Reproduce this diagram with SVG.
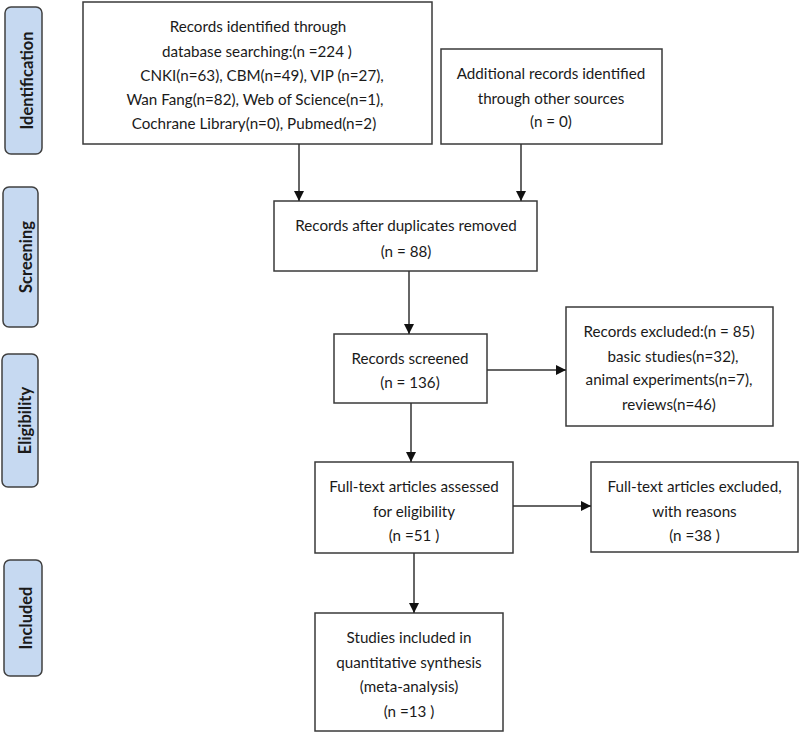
<svg xmlns="http://www.w3.org/2000/svg" width="800" height="733" viewBox="0 0 800 733">
<style>
.box{fill:#fff;stroke:#3a3a3a;stroke-width:1.5}
.phase{fill:#c6d9f1;stroke:#404040;stroke-width:1.5}
.t{font-family:Lato,"Liberation Sans",sans-serif;font-size:15.2px;fill:#1a1a1a;text-anchor:middle}
.pt{font-family:Lato,"Liberation Sans",sans-serif;font-size:16.5px;font-weight:bold;fill:#1a1a1a;text-anchor:middle}
.c{stroke:#333;stroke-width:1.5;fill:none;marker-end:url(#ah)}
</style>
<defs>
<marker id="ah" viewBox="0 0 10 10" refX="10" refY="5" markerWidth="10" markerHeight="10" markerUnits="userSpaceOnUse" orient="auto">
<path d="M0,0 L10,5 L0,10 z" fill="#111"/>
</marker>
</defs>
<rect width="800" height="733" fill="#fff"/>
<g id="phase-identification">
<rect class="phase" x="5" y="7" width="37" height="147" rx="6"/>
<text class="pt" transform="translate(32.5,80.5) rotate(-90)">Identification</text>
</g>
<g id="phase-screening">
<rect class="phase" x="3" y="187" width="35" height="140" rx="6"/>
<text class="pt" transform="translate(31.5,257) rotate(-90)">Screening</text>
</g>
<g id="phase-eligibility">
<rect class="phase" x="2" y="354" width="36" height="133" rx="6"/>
<text class="pt" transform="translate(30.5,420.5) rotate(-90)">Eligibility</text>
</g>
<g id="phase-included">
<rect class="phase" x="4" y="560" width="38" height="116" rx="6"/>
<text class="pt" transform="translate(31.5,618) rotate(-90)">Included</text>
</g>
<g id="n-identified">
<rect class="box" x="83" y="2" width="349" height="142"/>
<text class="t" x="258" y="32">Records identified through</text>
<text class="t" x="257" y="57">database searching:(n =224 )</text>
<text class="t" x="262" y="81">CNKI(n=63), CBM(n=49), VIP (n=27),</text>
<text class="t" x="255" y="105">Wan Fang(n=82), Web of Science(n=1),</text>
<text class="t" x="254" y="129">Cochrane Library(n=0), Pubmed(n=2)</text>
</g>
<g id="n-additional">
<rect class="box" x="441" y="49" width="221" height="95"/>
<text class="t" x="551" y="79">Additional records identified</text>
<text class="t" x="551" y="104">through other sources</text>
<text class="t" x="551" y="127">(n = 0)</text>
</g>
<g id="n-duplicates">
<rect class="box" x="274" y="201" width="263" height="70"/>
<text class="t" x="406" y="231">Records after duplicates removed</text>
<text class="t" x="406" y="257">(n = 88)</text>
</g>
<g id="n-screened">
<rect class="box" x="334" y="334" width="153" height="69"/>
<text class="t" x="410" y="364">Records screened</text>
<text class="t" x="410" y="388">(n = 136)</text>
</g>
<g id="n-excluded">
<rect class="box" x="566" y="307" width="207" height="119"/>
<text class="t" x="669" y="337">Records excluded:(n = 85)</text>
<text class="t" x="673" y="362">basic studies(n=32),</text>
<text class="t" x="669" y="385">animal experiments(n=7),</text>
<text class="t" x="669" y="410">reviews(n=46)</text>
</g>
<g id="n-assessed">
<rect class="box" x="315" y="462" width="198" height="91"/>
<text class="t" x="414" y="492">Full-text articles assessed</text>
<text class="t" x="414" y="517">for eligibility</text>
<text class="t" x="414" y="541">(n =51 )</text>
</g>
<g id="n-ftexcluded">
<rect class="box" x="591" y="462" width="207" height="90"/>
<text class="t" x="694.5" y="492">Full-text articles excluded,</text>
<text class="t" x="694.5" y="517">with reasons</text>
<text class="t" x="694.5" y="541">(n =38 )</text>
</g>
<g id="n-included">
<rect class="box" x="315" y="613" width="188" height="118"/>
<text class="t" x="409" y="643">Studies included in</text>
<text class="t" x="409" y="668">quantitative synthesis</text>
<text class="t" x="409" y="692">(meta-analysis)</text>
<text class="t" x="409" y="717">(n =13 )</text>
</g>
<g id="connectors">
<line class="c" x1="299" y1="144" x2="299" y2="201"/>
<line class="c" x1="521" y1="144" x2="521" y2="201"/>
<line class="c" x1="409" y1="271" x2="409" y2="334"/>
<line class="c" x1="487" y1="370" x2="566" y2="370"/>
<line class="c" x1="411" y1="403" x2="411" y2="462"/>
<line class="c" x1="513" y1="506" x2="591" y2="506"/>
<line class="c" x1="414" y1="553" x2="414" y2="613"/>
</g>
</svg>
